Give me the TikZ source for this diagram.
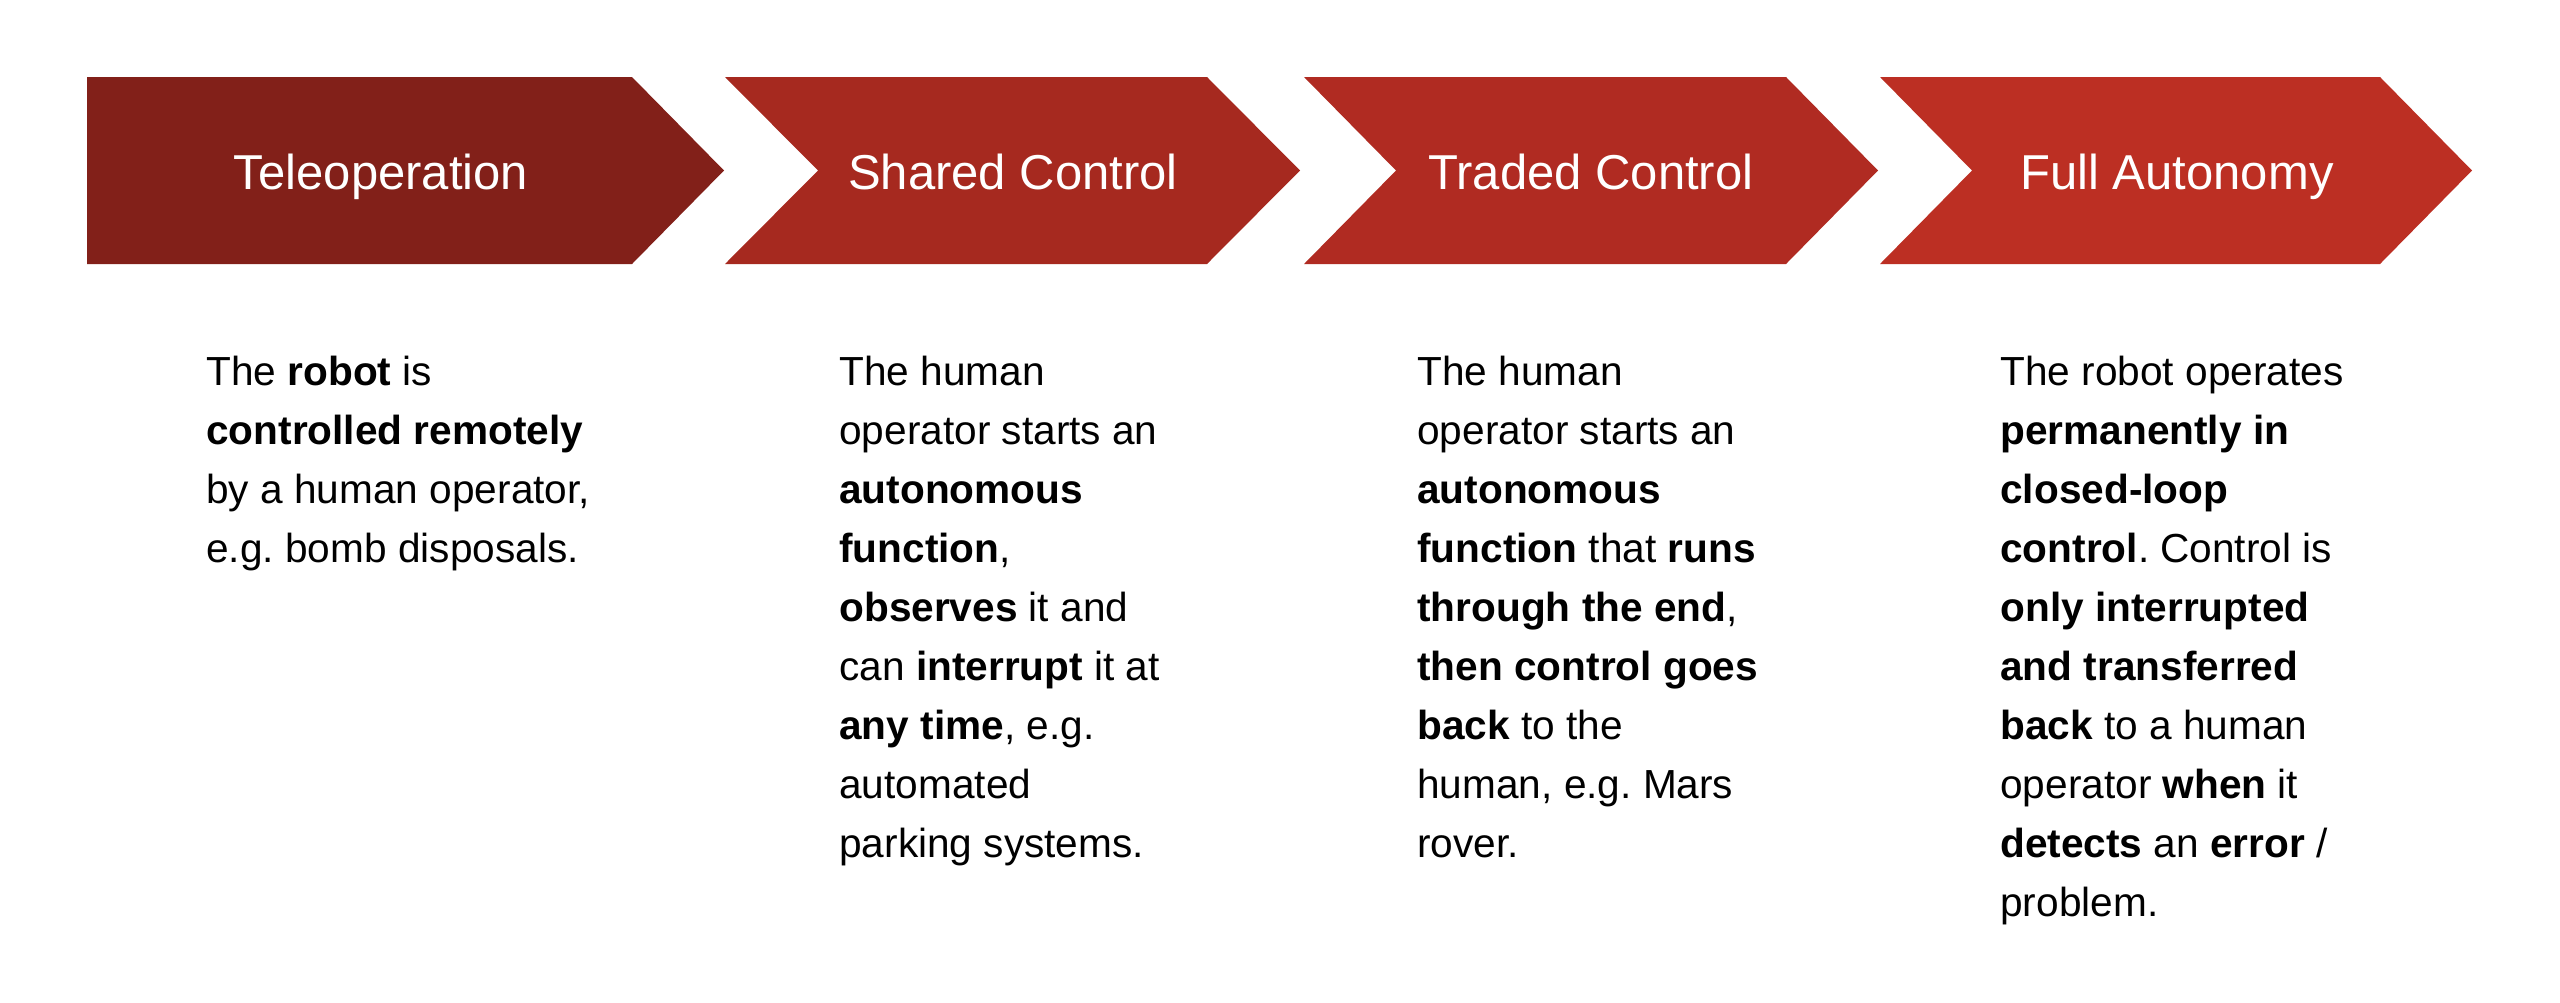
\documentclass[tikz,border=0pt]{standalone}
\usepackage{fontspec}
\setmainfont{Liberation Sans}
\frenchspacing
\definecolor{cA}{HTML}{822019}
\definecolor{cB}{HTML}{A6291F}
\definecolor{cC}{HTML}{B02B22}
\definecolor{cD}{HTML}{BC2F23}
\tikzset{
  head/.style={text=white, anchor=base, inner sep=0pt, font=\fontsize{24.5}{29}\selectfont},
  body/.style={text=black, anchor=north west, inner sep=0pt, align=left, font=\fontsize{20.3}{29.5}\selectfont\frenchspacing}
}
\begin{document}
\begin{tikzpicture}[x=0.5pt, y=-0.5pt]
\useasboundingbox (0,0) rectangle (2560,1002);
\fill[white] (0,0) rectangle (2560,1002);
% chevrons
\fill[cA] (87,77) -- (632,77) -- (724,170.5) -- (632,264) -- (87,264) -- cycle;
\fill[cB] (725,77) -- (1207,77) -- (1300,170.5) -- (1207,264) -- (725,264) -- (818,170.5) -- cycle;
\fill[cC] (1304,77) -- (1786,77) -- (1878,170.5) -- (1786,264) -- (1304,264) -- (1396,170.5) -- cycle;
\fill[cD] (1880,77) -- (2380,77) -- (2472,170.5) -- (2380,264) -- (1880,264) -- (1972,170.5) -- cycle;
% headers
\node[head] (h1) at (381,189) {Teleoperation};
\node[head] (h2) at (1013,189) {Shared Control};
\node[head] (h3) at (1591,189) {Traded Control};
\node[head] (h4) at (2177,189) {Full Autonomy};
% descriptions
\node[body] (d1) at (206,356) {The \textbf{robot} is\\\textbf{controlled remotely}\\by a human operator,\\e.g. bomb disposals.};
\node[body] (d2) at (839,356) {The human\\operator starts an\\\textbf{autonomous}\\\textbf{function},\\\textbf{observes} it and\\can \textbf{interrupt} it at\\\textbf{any time}, e.g.\\automated\\parking systems.};
\node[body] (d3) at (1417,356) {The human\\operator starts an\\\textbf{autonomous}\\\textbf{function} that \textbf{runs}\\\textbf{through the end},\\\textbf{then control goes}\\\textbf{back} to the\\human, e.g. Mars\\rover.};
\node[body] (d4) at (2000,356) {The robot operates\\\textbf{permanently in}\\\textbf{closed-loop}\\\textbf{control}. Control is\\\textbf{only interrupted}\\\textbf{and transferred}\\\textbf{back} to a human\\operator \textbf{when} it\\\textbf{detects} an \textbf{error} /\\problem.};
\end{tikzpicture}
\end{document}
